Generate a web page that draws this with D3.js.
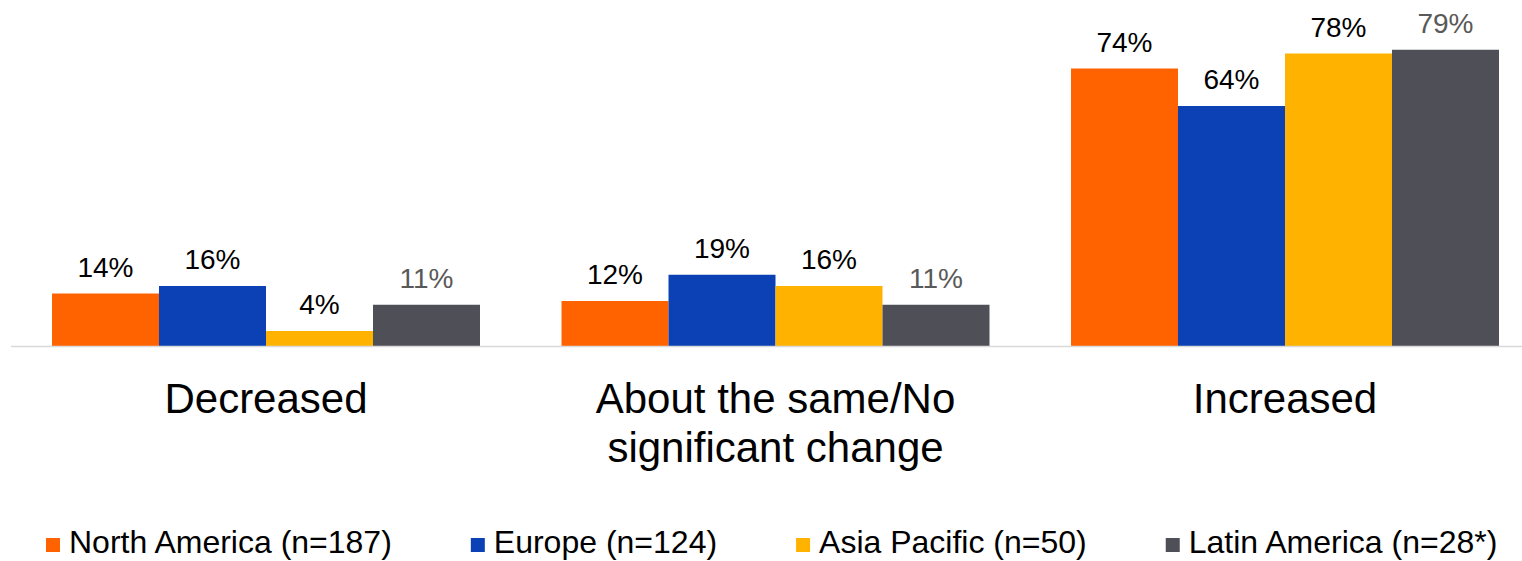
<!DOCTYPE html>
<html>
<head>
<meta charset="utf-8">
<script src="https://cdn.jsdelivr.net/npm/d3@7"></script>
<style>
  html, body { margin: 0; padding: 0; background: #fff; }
  svg { display: block; font-family: "Liberation Sans", Arial, sans-serif; }
</style>
</head>
<body>
<svg id="chart" width="1522" height="561"></svg>
<script>
const categories = ["Decreased", "About the same/No significant change", "Increased"];
const categoryLines = [["Decreased"], ["About the same/No", "significant change"], ["Increased"]];
const seriesNames = ["North America (n=187)", "Europe (n=124)", "Asia Pacific (n=50)", "Latin America (n=28*)"];
const northAmerica = [14, 12, 74];
const europe = [16, 19, 64];
const asiaPacific = [4, 16, 78];
const latinAmerica = [11, 11, 79];
const seriesColors = ["#FF6300", "#0B41B5", "#FFB300", "#4F4F57"];
const labelColors = ["#000000", "#000000", "#000000", "#595959"];

const seriesValues = [northAmerica, europe, asiaPacific, latinAmerica];

const svg = d3.select("#chart");
const baseY = 346;

const x0 = d3.scaleBand().domain(categories).range([11.25, 1539.75])
  .paddingInner(0.16).paddingOuter(0.08);
const x1 = d3.scaleBand().domain(seriesNames).range([0, x0.bandwidth()]);
const y = d3.scaleLinear().domain([0, 80]).range([baseY, baseY - 80 * 3.75]);

// bars
const groups = svg.selectAll("g.grp").data(categories).join("g")
  .attr("class", "grp")
  .attr("transform", d => `translate(${x0(d)},0)`);

groups.each(function(cat, ci) {
  const g = d3.select(this);
  const rows = seriesNames.map((s, si) => ({ s, si, v: seriesValues[si][ci] }));
  g.selectAll("rect").data(rows).join("rect")
    .attr("x", d => x1(d.s))
    .attr("y", d => y(d.v))
    .attr("width", x1.bandwidth())
    .attr("height", d => baseY - y(d.v))
    .attr("fill", d => seriesColors[d.si]);
  g.selectAll("text.val").data(rows).join("text")
    .attr("class", "val")
    .attr("x", d => x1(d.s) + x1.bandwidth() / 2)
    .attr("y", d => y(d.v) - 17)
    .attr("text-anchor", "middle")
    .attr("font-size", 28)
    .attr("fill", d => labelColors[d.si])
    .text(d => d.v + "%");
});

// axis baseline
svg.append("line")
  .attr("x1", 11).attr("x2", 1522)
  .attr("y1", baseY + 0.5).attr("y2", baseY + 0.5)
  .attr("stroke", "#D9D9D9").attr("stroke-width", 1.5);

// category labels
categories.forEach((c, i) => {
  const t = svg.append("text")
    .attr("x", x0(c) + x0.bandwidth() / 2)
    .attr("y", 413)
    .attr("text-anchor", "middle")
    .attr("font-size", 42)
    .attr("fill", "#000");
  categoryLines[i].forEach((ln, li) => {
    t.append("tspan").attr("x", x0(c) + x0.bandwidth() / 2)
      .attr("dy", li === 0 ? 0 : 49).text(ln);
  });
});

// legend
const legend = svg.append("g");
let lx = 46;
seriesNames.forEach((s, i) => {
  legend.append("rect")
    .attr("x", lx).attr("y", 538).attr("width", 14).attr("height", 14)
    .attr("fill", seriesColors[i]);
  const t = legend.append("text")
    .attr("x", lx + 23).attr("y", 553)
    .attr("font-size", 32)
    .attr("fill", "#000")
    .text(s);
  const w = t.node().getComputedTextLength();
  lx = lx + 23 + w + 79;
});
</script>
</body>
</html>
